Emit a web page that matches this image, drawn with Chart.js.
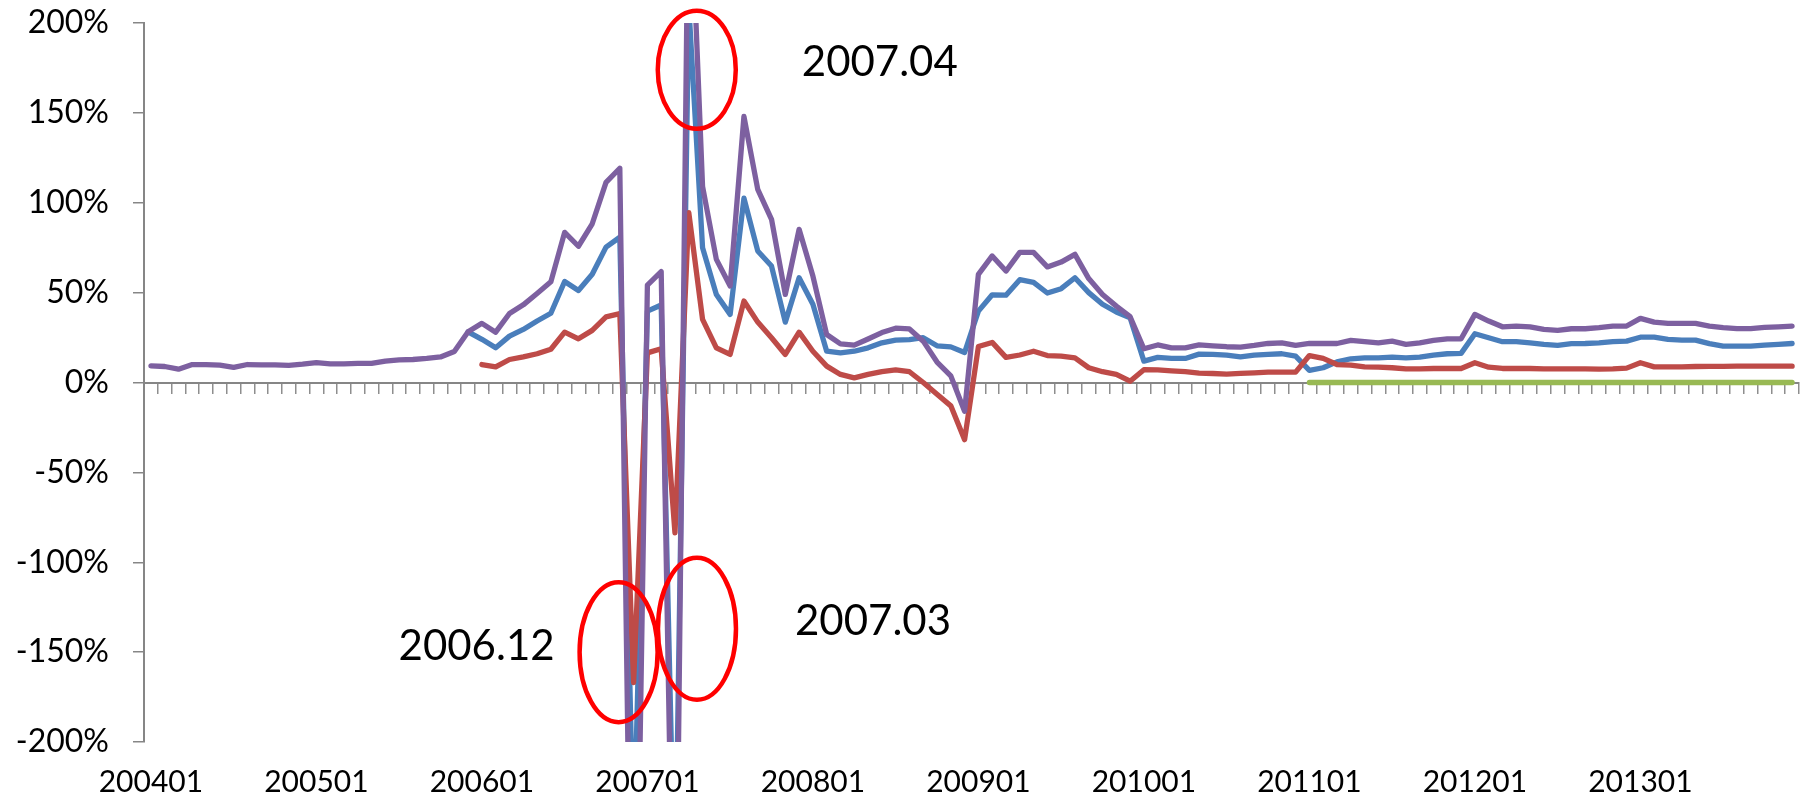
<!DOCTYPE html>
<html>
<head>
<meta charset="utf-8">
<script src="https://cdn.jsdelivr.net/npm/chart.js@4/dist/chart.umd.min.js"></script>
<style>
  html, body { margin: 0; padding: 0; background: #ffffff; }
  #wrap { width: 1808px; height: 798px; position: relative; }
</style>
</head>
<body>
<div id="wrap"><canvas id="chart"></canvas></div>
<script>
// Monthly categories, January 2004 to December 2013
const years = [2004, 2005, 2006, 2007, 2008, 2009, 2010, 2011, 2012, 2013];
const monthCodes = ['01','02','03','04','05','06','07','08','09','10','11','12'];
const months = [];
years.forEach(y => monthCodes.forEach(m => months.push(String(y) + m)));

// Series values in percent (null = no data for that month)
const blueSeries = [
  null, null, null, null, null, null, null, null, null, null, null, null,
  null, null, null, null, null, null, null, null, null, null, null, 28.2,
  24, 19.3, 25.8, 29.5, 34.2, 38.5, 56.2, 51.2, 60.2, 75.3, 80.8, -260,
  39.7, 43.1, -290, 210, 75, 49, 37.9, 102.5, 73.2, 64.8, 33.6, 58.3,
  43.5, 17.4, 16.5, 17.4, 19.3, 22.1, 23.6, 23.8, 24.9, 20.4, 19.8, 16.7,
  39.7, 48.8, 48.6, 57.2, 55.7, 49.8, 52.2, 58.3, 50, 43.5, 39.2, 36,
  11.9, 14, 13.4, 13.4, 15.8, 15.6, 15.2, 14.3, 15.2, 15.6, 16, 14.7,
  6.7, 8.2, 11.5, 13.2, 13.7, 13.7, 14.1, 13.7, 14.1, 15.2, 16, 16.2,
  27.1, 24.9, 22.7, 22.7, 22.1, 21.2, 20.6, 21.6, 21.7, 22.1, 22.7, 23,
  25.2, 25.2, 24, 23.6, 23.6, 21.6, 20.2, 20.2, 20.2, 20.8, 21.2, 21.7
];
const redSeries = [
  null, null, null, null, null, null, null, null, null, null, null, null,
  null, null, null, null, null, null, null, null, null, null, null, null,
  10, 8.7, 12.8, 14.3, 16, 18.5, 28, 24.3, 29, 36.5, 38.3, -167,
  16.5, 18.8, -83.7, 94.5, 35.1, 19.3, 15.6, 45.3, 33.6, 24.9, 15.6, 28,
  17.4, 9.1, 4.5, 2.6, 4.5, 6.1, 7, 6, 0, -6.5, -13, -31.8,
  20, 22.3, 14, 15.3, 17.4, 15, 14.7, 13.7, 8.2, 6, 4.5, 0.7,
  7.1, 7, 6.5, 6, 5.2, 5, 4.7, 5.1, 5.4, 5.8, 5.8, 5.8,
  15, 13.4, 10, 9.7, 8.7, 8.5, 8.2, 7.6, 7.6, 7.8, 7.8, 7.8,
  11, 8.5, 7.8, 7.8, 7.8, 7.6, 7.6, 7.6, 7.6, 7.4, 7.6, 8,
  11, 8.7, 8.7, 8.7, 8.9, 9, 9, 9.1, 9.1, 9.1, 9.1, 9.1
];
const greenSeries = [
  null, null, null, null, null, null, null, null, null, null, null, null,
  null, null, null, null, null, null, null, null, null, null, null, null,
  null, null, null, null, null, null, null, null, null, null, null, null,
  null, null, null, null, null, null, null, null, null, null, null, null,
  null, null, null, null, null, null, null, null, null, null, null, null,
  null, null, null, null, null, null, null, null, null, null, null, null,
  null, null, null, null, null, null, null, null, null, null, null, null,
  0, 0, 0, 0, 0, 0, 0, 0, 0, 0, 0, 0,
  0, 0, 0, 0, 0, 0, 0, 0, 0, 0, 0, 0,
  0, 0, 0, 0, 0, 0, 0, 0, 0, 0, 0, 0
];
const purpleSeries = [
  9.3, 8.9, 7.4, 10.0, 10.0, 9.7, 8.4, 10.0, 9.8, 9.8, 9.5, 10.2,
  11.1, 10.4, 10.4, 10.6, 10.6, 11.9, 12.6, 12.8, 13.4, 14.2, 17.2, 28.2,
  32.9, 28.0, 38.4, 43.2, 49.5, 56.0, 83.5, 75.8, 88.3, 111.3, 119.2, -427,
  54.2, 61.7, -374, 300, 109, 68.5, 53.7, 148, 107.5, 90.8, 49, 85.2,
  59.2, 26.7, 21.5, 20.8, 24.2, 27.8, 30.2, 29.8, 23, 11.4, 3.7, -16,
  60.2, 70.4, 62, 72.4, 72.4, 64.3, 67, 71.3, 57.8, 49, 42.5, 36.6,
  18.8, 20.9, 19.3, 19.3, 20.9, 20.4, 19.9, 19.7, 20.6, 21.7, 22.1, 20.6,
  21.7, 21.7, 21.7, 23.4, 22.7, 22.1, 23, 21.2, 22.1, 23.4, 24.3, 24.3,
  37.9, 34.2, 31, 31.4, 31, 29.5, 29, 29.9, 29.9, 30.5, 31.4, 31.4,
  35.7, 33.6, 32.9, 32.9, 32.9, 31.4, 30.5, 30, 30, 30.7, 31, 31.4
];

// Y axis range and step, in percent
const yTicks = { min: -200, max: 200, step: 50 };

// Circled months with their captions: category index, circle centre value
const callouts = [
  { text: '2007.04', index: 39, dx: 8,   value: 174,  rx: 39, ry: 59, tdx: 105, tdy: 6, align: 'left' },
  { text: '2006.12', index: 35, dx: -15, value: -150, rx: 39, ry: 70, tdx: -64, tdy: 8, align: 'right' },
  { text: '2007.03', index: 38, dx: 22,  value: -137, rx: 39, ry: 71, tdx: 98,  tdy: 6, align: 'left' }
];

const FONT = 'Lato, "Noto Sans", sans-serif';
const axisGrey = '#868686';
const LINE_W = 5.3;

const calloutPlugin = {
  id: 'callouts',
  afterDatasetsDraw(chart) {
    const ctx = chart.ctx;
    const xs = chart.scales.x, ys = chart.scales.y;
    ctx.save();
    callouts.forEach(c => {
      const cx = xs.getPixelForValue(c.index) + c.dx;
      const cy = ys.getPixelForValue(c.value);
      ctx.beginPath();
      ctx.ellipse(cx, cy, c.rx, c.ry, 0, 0, Math.PI * 2);
      ctx.lineWidth = 4.5;
      ctx.strokeStyle = '#FF0000';
      ctx.stroke();
      ctx.font = '42px ' + FONT;
      ctx.fillStyle = '#000000';
      ctx.textAlign = c.align;
      ctx.textBaseline = 'alphabetic';
      ctx.fillText(c.text, cx + c.tdx, cy + c.tdy);
    });
    ctx.restore();
  }
};

Chart.defaults.color = '#000000';

const lineSet = (data, color, order) => ({
  data, borderColor: color, backgroundColor: color, order,
  borderWidth: LINE_W, borderJoinStyle: 'round', borderCapStyle: 'round',
  pointRadius: 0, pointHoverRadius: 0, tension: 0, fill: false,
  xAxisID: 'x', yAxisID: 'y', clip: 0, spanGaps: false
});

new Chart(document.getElementById('chart'), {
  type: 'line',
  data: {
    labels: months,
    datasets: [
      lineSet(blueSeries, '#4A7EBB', 4),
      lineSet(redSeries, '#BE4B48', 3),
      lineSet(greenSeries, '#98B954', 2),
      lineSet(purpleSeries, '#7D60A0', 1)
    ]
  },
  options: {
    responsive: true,
    maintainAspectRatio: false,
    animation: false,
    events: [],
    layout: { padding: { top: 23, right: 9, left: 0, bottom: 0 } },
    plugins: { legend: { display: false }, tooltip: { enabled: false } },
    scales: {
      x: {
        type: 'category',
        offset: true,
        position: 'bottom',
        grid: { display: false, drawTicks: false },
        border: { display: false },
        ticks: {
          autoSkip: false, maxRotation: 0, minRotation: 0, padding: 22,
          font: { family: FONT, size: 30 },
          callback(v, i) { return i % 12 === 0 ? this.getLabelForValue(v) : null; }
        },
        afterFit(s) { s.height = 56; }
      },
      xz: {
        type: 'category',
        axis: 'x',
        offset: true,
        position: { y: 0 },
        grid: { display: true, drawOnChartArea: false, drawTicks: true, tickLength: 10, color: '#8E8E8E', lineWidth: 1.5, offset: true },
        border: { display: true, color: axisGrey, width: 2 },
        ticks: { display: false },
        afterFit(s) { s.height = 0; }
      },
      y: {
        min: yTicks.min, max: yTicks.max,
        ticks: {
          stepSize: yTicks.step, padding: 24,
          font: { family: FONT, size: 32 },
          callback: v => v + '%'
        },
        grid: { drawOnChartArea: false, drawTicks: true, tickLength: 11, color: axisGrey, lineWidth: 1.5 },
        border: { color: axisGrey, width: 2 },
        afterFit(s) { s.width = 144; s.paddingTop = 0; s.paddingBottom = 0; }
      }
    }
  },
  plugins: [calloutPlugin]
});
</script>
</body>
</html>
